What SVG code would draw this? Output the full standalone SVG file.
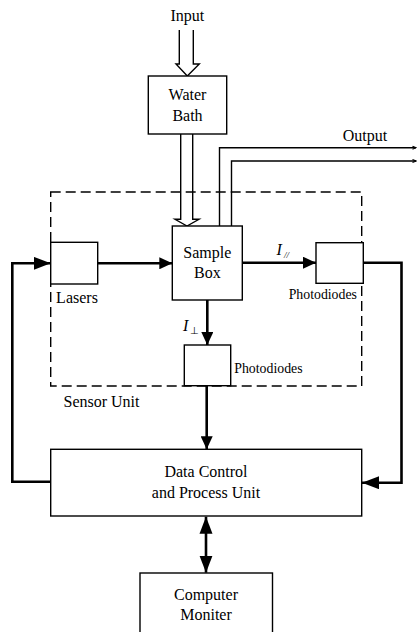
<svg xmlns="http://www.w3.org/2000/svg" width="417" height="632" viewBox="0 0 417 632" font-family="'Liberation Serif', 'Times New Roman', serif">
<style>
text{font-family:'Liberation Serif','Times New Roman',serif;fill:#000}
.lbl{font-size:16px;text-anchor:middle}
.sm{font-size:13.8px}
.box{fill:#fff;stroke:#000;stroke-width:1.4}
.thick{fill:none;stroke:#000;stroke-width:2.6}
.thin{fill:none;stroke:#000;stroke-width:1.4}
.dash{fill:none;stroke:#000;stroke-width:1.4;stroke-dasharray:10 5}
.it{font-style:italic;font-size:16px}
</style>
<defs>
<marker id="ah" markerUnits="userSpaceOnUse" markerWidth="14" markerHeight="12" refX="13" refY="6" orient="auto">
<path d="M0,0 L13,6 L0,12 Z" fill="#000"/>
</marker>
<marker id="ahb" markerUnits="userSpaceOnUse" markerWidth="18" markerHeight="14" refX="17" refY="6.5" orient="auto">
<path d="M0,0 L17,6.5 L0,13 Z" fill="#000"/>
</marker>
<marker id="ahbs" markerUnits="userSpaceOnUse" markerWidth="18" markerHeight="14" refX="0" refY="6.5" orient="auto">
<path d="M17,0 L0,6.5 L17,13 Z" fill="#000"/>
</marker>
<marker id="oh" markerUnits="userSpaceOnUse" markerWidth="6" markerHeight="6" refX="4" refY="3" orient="auto">
<path d="M0.5,1.5 L4,3 L0.5,4.5" fill="none" stroke="#000" stroke-width="1.1"/>
</marker>
</defs>

<g id="sensor-unit">
<rect class="dash" x="50.7" y="192" width="311" height="194"/>
<text class="lbl" x="101.5" y="406.7">Sensor Unit</text>
</g>

<g id="connectors">
<path class="thin" d="M179.3,30 V64 H176 L187.3,76 L199.3,64 H193.3 V30" fill="#fff"/>
<path class="thin" d="M180.7,134 V219.3 H175 L187,226 L199,219.3 H192.7 V134" fill="#fff"/>
<path class="thin" d="M219.5,226 V147.7 H416" marker-end="url(#oh)"/>
<path class="thin" d="M231.5,226 V161 H416" marker-end="url(#oh)"/>
<path class="thick" d="M97.7,263.3 H172.3" marker-end="url(#ah)"/>
<path class="thick" d="M242.3,262.7 H316" marker-end="url(#ah)"/>
<path class="thick" d="M207.3,300 V345" marker-end="url(#ah)"/>
<path class="thick" d="M206.7,386 V449.3" marker-end="url(#ah)"/>
<path class="thick" d="M363.3,262.7 H401.5 V482.7 H362" marker-end="url(#ahb)"/>
<path class="thick" d="M50.7,481.7 H12.3 V263.3 H50.7" marker-end="url(#ahb)"/>
<path class="thick" d="M206,516.7 V572.7" marker-start="url(#ahbs)" marker-end="url(#ahb)"/>
<text x="187.3" y="21" class="lbl">Input</text>
<text x="365" y="140.7" class="lbl">Output</text>
<text class="it" x="276.5" y="255">I</text>
<text x="284" y="258" style="font-size:9px;font-style:italic">//</text>
<text class="it" x="183" y="330.7">I</text>
<text x="189.5" y="333.5" style="font-size:10px">⊥</text>
</g>

<g id="water-bath">
<rect class="box" x="148.3" y="76" width="78.4" height="58"/>
<text class="lbl" x="187.5" y="100">Water</text>
<text class="lbl" x="187.5" y="120.5">Bath</text>
</g>

<g id="lasers">
<rect class="box" x="50.7" y="242.3" width="47" height="41.7"/>
<text class="lbl" x="77" y="303">Lasers</text>
</g>

<g id="sample-box">
<rect class="box" x="172.3" y="226" width="70" height="74"/>
<text class="lbl" x="207.3" y="258">Sample</text>
<text class="lbl" x="207.3" y="278">Box</text>
</g>

<g id="photodiodes-right">
<rect class="box" x="316" y="242.7" width="47.3" height="40.6"/>
<text class="sm" x="288.7" y="299">Photodiodes</text>
</g>

<g id="photodiodes-bottom">
<rect class="box" x="184.3" y="345" width="46.4" height="40.7"/>
<text class="sm" x="234.3" y="373.3">Photodiodes</text>
</g>

<g id="data-control">
<rect class="box" x="50.7" y="449.3" width="311" height="66.7"/>
<text class="lbl" x="206" y="476.7">Data Control</text>
<text class="lbl" x="206" y="498.3">and Process Unit</text>
</g>

<g id="computer-monitor">
<rect class="box" x="140" y="573" width="132.5" height="70"/>
<text class="lbl" x="206" y="600">Computer</text>
<text class="lbl" x="206" y="620">Moniter</text>
</g>
</svg>
